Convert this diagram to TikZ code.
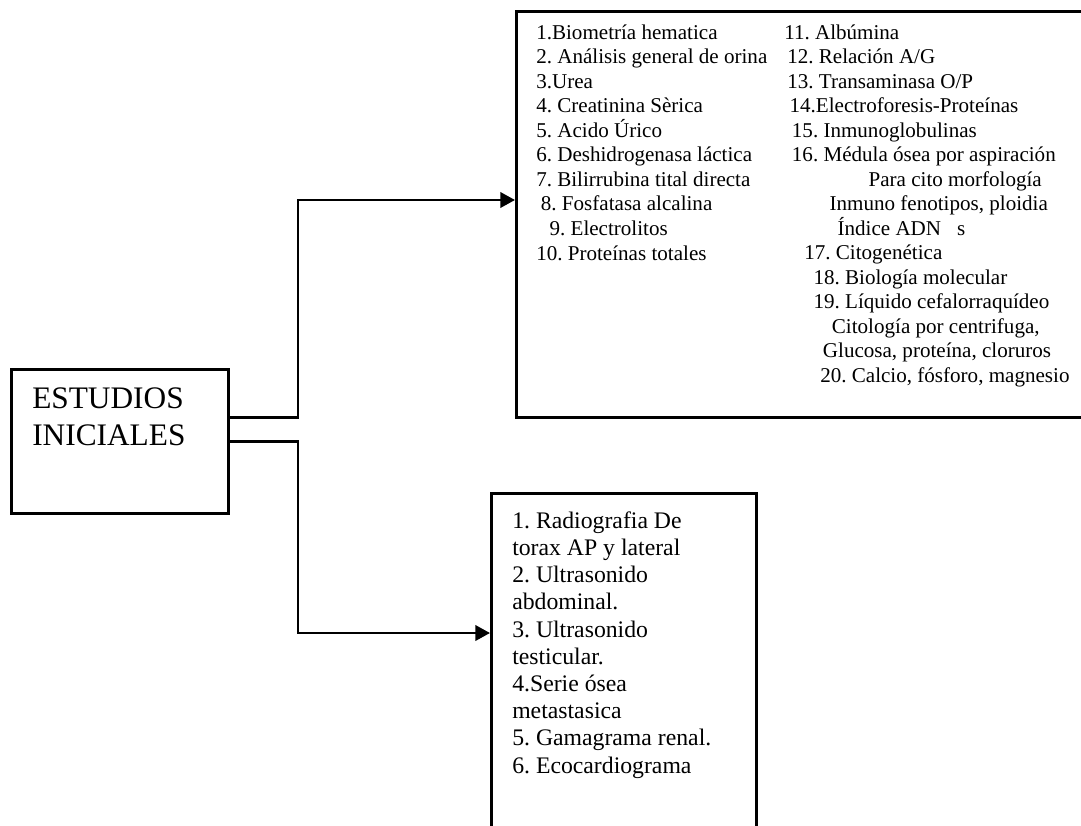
\documentclass[tikz,border=0pt]{standalone}
\usepackage{fontspec}
\setmainfont{Liberation Serif}
\usetikzlibrary{arrows.meta,positioning}
\frenchspacing

\begin{document}
\begin{tikzpicture}[x=0.75pt,y=-0.75pt,
  box/.style={draw,line width=2pt,inner sep=0pt,anchor=north west},
  txt/.style={inner sep=0pt,anchor=base west,align=left},
  link/.style={-{Triangle[length=11pt,width=11.5pt]},line width=2pt}]
\useasboundingbox (0,0) rectangle (1081,825);
% boxes
\node[box,minimum width=162.75pt,minimum height=108pt] (est) at (10,368) {};
\node[box,minimum width=450pt,minimum height=304.5pt] (labs) at (515,10) {};
\node[box,minimum width=198.75pt,minimum height=280pt] (images) at (490,492) {};
% texts (anchored at the baseline of the last line)
\node[txt,font=\fontsize{23.5}{27.75}\selectfont] (esttext) at (32,445)
  {ESTUDIOS\\INICIALES};
\node[txt,font=\fontsize{15.8}{18.4}\selectfont] (labsleft) at (536,260)
  {1.Biometría hematica\\
   2. Análisis general de orina\\
   3.Urea\\
   4. Creatinina Sèrica\\
   5. Acido Úrico\\
   6. Deshidrogenasa láctica\\
   7. Bilirrubina tital directa\\
   \hspace*{3.5pt}8. Fosfatasa alcalina\\
   \hspace*{10pt}9. Electrolitos\\
   10. Proteínas totales};
\node[txt,font=\fontsize{15.8}{18.4}\selectfont] (labsright) at (784,382.5)
  {11. Albúmina\\
   \hspace*{2.25pt}12. Relación A/G\\
   \hspace*{2.25pt}13. Transaminasa O/P\\
   \hspace*{4pt}14.Electroforesis-Proteínas\\
   \hspace*{5.75pt}15. Inmunoglobulinas\\
   \hspace*{5.75pt}16. Médula ósea por aspiración\\
   \hspace*{63.25pt}Para cito morfología\\
   \hspace*{34pt}Inmuno fenotipos, ploidia\\
   \hspace*{40pt}Índice ADN\hspace*{12pt}s\\
   \hspace*{15pt}17. Citogenética\\
   \hspace*{22pt}18. Biología molecular\\
   \hspace*{22pt}19. Líquido cefalorraquídeo\\
   \hspace*{35.75pt}Citología por centrifuga,\\
   \hspace*{29pt}Glucosa, proteína, cloruros\\
   \hspace*{27pt}20. Calcio, fósforo, magnesio};
\node[txt,font=\fontsize{17.8}{20.4}\selectfont] (imagestext) at (512,773)
  {1. Radiografia De\\
   torax AP y lateral\\
   2. Ultrasonido\\
   abdominal.\\
   3. Ultrasonido\\
   testicular.\\
   4.Serie ósea\\
   metastasica\\
   5. Gamagrama renal.\\
   6. Ecocardiograma};
% connectors
\coordinate (upbend) at (298,200);
\coordinate (downbend) at (298,633);
\draw[link] ([yshift=18pt]est.east) -| (upbend) -- (labs.west |- upbend);
\draw[link] (est.east) -| (downbend) -- (images.west |- downbend);
\end{tikzpicture}
\end{document}
